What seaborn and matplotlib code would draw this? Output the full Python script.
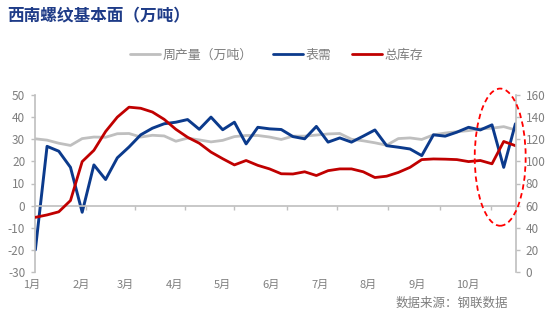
import matplotlib
matplotlib.use("Agg")
import matplotlib.pyplot as plt
import matplotlib.transforms as mtransforms
from matplotlib.patches import Ellipse
from matplotlib.lines import Line2D
import pandas as pd
import seaborn as sns

# Weekly series (index = week number of the year)
weeks = list(range(42))
output = [30.2, 29.6, 28.2, 27.2, 30.3, 31.0, 30.9, 32.5, 32.6, 31.0,
          31.8, 31.5, 29.1, 30.5, 29.7, 28.8, 29.5, 31.2, 31.7, 31.7,
          31.0, 29.9, 31.4, 31.4, 31.9, 32.4, 32.6, 30.0, 29.3, 28.4,
          27.3, 30.3, 30.6, 29.9, 32.0, 32.8, 33.4, 33.9, 34.7, 35.0,
          35.7, 34.2]
demand = [-20.0, 26.8, 24.6, 17.3, -3.0, 18.4, 11.8, 21.6, 26.5, 32.0,
          35.0, 37.0, 37.7, 38.9, 34.5, 40.0, 34.3, 37.7, 27.9, 35.4,
          34.7, 34.4, 31.2, 30.2, 35.8, 28.7, 30.6, 28.7, 31.4, 34.2,
          27.1, 26.4, 25.6, 22.6, 32.0, 31.4, 33.2, 35.4, 34.2, 36.5,
          17.3, 37.0]
inventory = [49.4, 51.6, 54.4, 64.6, 99.8, 110.0, 127.0, 140.0, 149.0, 148.0,
             144.6, 138.0, 129.0, 121.8, 116.4, 108.4, 102.4, 96.8, 100.8, 96.4,
             93.2, 88.8, 88.6, 90.6, 87.2, 91.6, 93.2, 93.2, 90.6, 85.4,
             86.6, 90.0, 94.6, 101.6, 102.2, 102.0, 101.6, 99.8, 100.8, 97.8,
             118.0, 114.2]

month_labels = ["1月", "2月", "3月", "4月", "5月", "6月", "7月", "8月", "9月", "10月"]
month_pos = [-0.27, 3.9, 7.7, 11.9, 16.0, 20.1, 24.3, 28.4, 32.6, 36.9]
tick_pos = [4.3, 8.5, 12.8, 17.0, 21.5, 25.8, 30.1, 34.6, 38.9]

GRAY = "#BFBFBF"
BLUE = "#0B3A8C"
RED = "#C00000"
AXIS = "#BFBFBF"
TEXT = "#7F7F7F"

sns.set_style("white")
plt.rcParams["font.family"] = ["Noto Sans CJK SC", "DejaVu Sans"]
plt.rcParams["axes.unicode_minus"] = False

df = pd.DataFrame({"week": weeks, "output": output,
                   "demand": demand, "inventory": inventory})

fig = plt.figure(figsize=(5.5, 3.3), dpi=100)
ax = fig.add_axes([35 / 550, (330 - 272) / 330, (516 - 35) / 550, (272 - 95) / 330])

sns.lineplot(data=df, x="week", y="output", ax=ax, color=GRAY, lw=2, legend=False)
sns.lineplot(data=df, x="week", y="demand", ax=ax, color=BLUE, lw=2.1, legend=False)
ax2 = ax.twinx()
sns.lineplot(data=df, x="week", y="inventory", ax=ax2, color=RED, lw=2, legend=False)

ax.set_xlim(-0.03, 41.05)
ax.set_ylim(-30, 50)
ax2.set_ylim(0, 160)
ax.set_yticks(range(-30, 51, 10))
ax2.set_yticks(range(0, 161, 20))
ax.set_xticks(tick_pos)
ax.set_xticklabels([])
for a in (ax, ax2):
    a.set_xlabel("")
    a.set_ylabel("")
    a.grid(False)
    a.spines["top"].set_visible(False)

ax.spines["bottom"].set_position(("data", 0))
ax.spines["bottom"].set_color(AXIS)
ax.spines["bottom"].set_linewidth(1.2)
ax.spines["left"].set_color(AXIS)
ax.spines["left"].set_linewidth(1.2)
ax.spines["right"].set_visible(False)
ax2.spines["bottom"].set_visible(False)
ax2.spines["left"].set_visible(False)
ax2.spines["right"].set_color(AXIS)
ax2.spines["right"].set_linewidth(1.2)

ax.tick_params(axis="x", direction="out", length=3, width=1, color=AXIS, bottom=True)
ax.tick_params(axis="y", direction="out", length=3, width=1, color=AXIS,
               labelcolor=TEXT, labelsize=8.5, pad=4, left=True)
ax2.tick_params(axis="y", direction="out", length=3, width=1, color=AXIS,
                labelcolor=TEXT, labelsize=8.5, pad=4, right=True)

# Month labels sit below the plot area, independent of the zero-line axis
trans = mtransforms.blended_transform_factory(ax.transData, ax.transAxes)
for p, lab in zip(month_pos, month_labels):
    ax.text(p, -0.075, lab, transform=trans, ha="center", va="center",
            fontsize=8, color=TEXT, clip_on=False)

# Dashed highlight around the latest weeks (right-axis units)
ax2.add_patch(Ellipse((39.7, 103.8), width=4.35, height=124, fill=False,
                      ec="#FF0000", lw=1.3, ls=(0, (3, 2)), clip_on=False, zorder=5))

handles = [Line2D([], [], color=GRAY, lw=2),
           Line2D([], [], color=BLUE, lw=2),
           Line2D([], [], color=RED, lw=2)]
fig.legend(handles, ["周产量（万吨）", "表需", "总库存"], loc="center left",
           bbox_to_anchor=(130 / 550, 1 - 55 / 330), ncol=3, frameon=False,
           fontsize=9.3, handlelength=2.3, handletextpad=0.2, columnspacing=1.6,
           borderpad=0, borderaxespad=0, labelcolor=TEXT)

fig.text(7 / 550, 1 - 16 / 330, "西南螺纹基本面（万吨）", ha="left", va="center",
         fontsize=12, fontweight="bold", color="#1F3C88")
fig.text(508 / 550, 1 - 303 / 330, "数据来源：钢联数据", ha="right", va="center",
         fontsize=9, color=TEXT)

fig.savefig("out.png", dpi=100)
